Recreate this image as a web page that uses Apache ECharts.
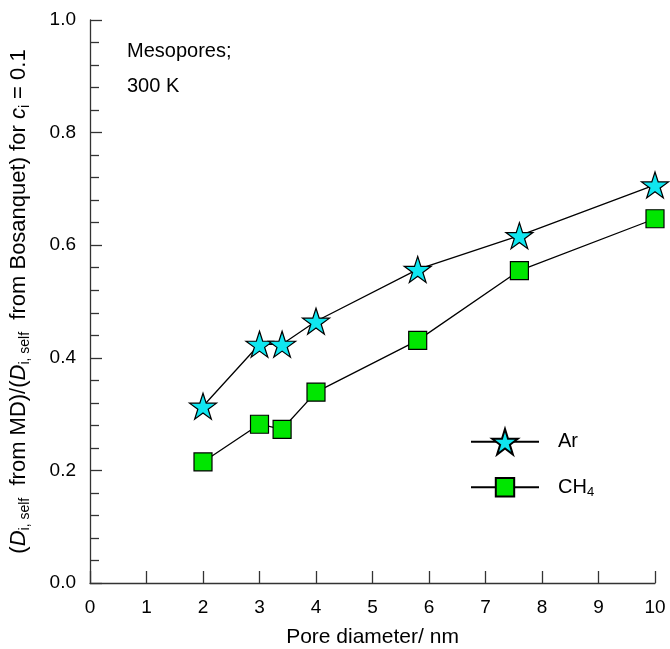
<!DOCTYPE html>
<html>
<head>
<meta charset="utf-8">
<script src="https://cdn.jsdelivr.net/npm/echarts@6/dist/echarts.min.js"></script>
<style>
  html, body { margin: 0; padding: 0; background: #fff; }
  #chart { width: 670px; height: 649px; }
</style>
</head>
<body>
<div id="chart"></div>
<script>
// pore diameters (nm)
var poreDiameter = [2, 3, 3.4, 4, 5.8, 7.6, 10];
// D(MD)/D(Bosanquet) ratios
var arRatio = [0.314, 0.424, 0.424, 0.465, 0.557, 0.617, 0.707];
var ch4Ratio = [0.215, 0.282, 0.273, 0.339, 0.431, 0.555, 0.647];

var starPath = 'path://M100,0 L122.45,69.1 L195.1,69.1 L136.3,111.8 L158.8,180.9 L100,138.2 L41.2,180.9 L63.7,111.8 L4.9,69.1 L77.55,69.1 Z';

function pairs(xs, ys) {
  return xs.map(function (x, i) { return [x, ys[i]]; });
}

var font = 'Liberation Sans';
var titleRich = {
  i: { fontStyle: 'italic', fontSize: 22, fontFamily: font, color: '#000' },
  sub: { fontSize: 14, fontFamily: font, color: '#000', verticalAlign: 'bottom', padding: [12, 0, 0, 0] }
};
var legendRich = {
  sub: { fontSize: 13, fontFamily: font, color: '#000', verticalAlign: 'bottom', padding: [10, 0, 0, 0] }
};

// one legend per series so each icon gets its own size
function legendBox(name, top, h) {
  return {
    orient: 'vertical',
    left: 470,
    top: top,
    padding: 0,
    itemWidth: 68,
    itemHeight: h,
    textStyle: { fontSize: 20, color: '#000', fontFamily: font, padding: [0, 0, 0, 14], rich: legendRich },
    formatter: function (n) { return n === 'CH4' ? 'CH{sub|4}' : n; },
    data: [name]
  };
}

var chart = echarts.init(document.getElementById('chart'));
chart.setOption({
  animation: false,
  grid: { left: 90, right: 15, top: 20, bottom: 66, outerBoundsMode: 'none' },
  textStyle: { fontFamily: font },
  legend: [legendBox('Ar', 428, 32), legendBox('CH4', 477, 23)],
  xAxis: {
    type: 'value',
    min: 0, max: 10, interval: 1,
    name: 'Pore diameter/ nm',
    nameLocation: 'middle',
    nameGap: 44,
    nameTextStyle: { fontSize: 21, color: '#000', fontFamily: font },
    axisLine: { lineStyle: { color: '#333', width: 1.3 } },
    axisTick: { inside: true, length: 12, lineStyle: { color: '#333', width: 1.3 } },
    axisLabel: { fontSize: 19, color: '#000', margin: 15, fontFamily: font },
    splitLine: { show: false }
  },
  yAxis: {
    type: 'value',
    min: 0, max: 1, interval: 0.2,
    name: '({i|D}{sub|i, self}  from MD)/({i|D}{sub|i, self}  from Bosanquet) for {i|c}{sub|i} = 0.1',
    nameLocation: 'middle',
    nameGap: 58,
    nameTextStyle: { fontSize: 22, color: '#000', fontFamily: font, rich: titleRich },
    axisLine: { show: true, lineStyle: { color: '#333', width: 1.3 } },
    axisTick: { inside: true, length: 12, lineStyle: { color: '#333', width: 1.3 } },
    minorTick: { show: true, splitNumber: 5, length: 9, lineStyle: { color: '#333', width: 1.3 } },
    axisLabel: {
      fontSize: 19, color: '#000', margin: 14, fontFamily: font,
      formatter: function (v) { return v.toFixed(1); }
    },
    splitLine: { show: false },
    minorSplitLine: { show: false }
  },
  graphic: [
    { type: 'text', left: 127, top: 41, style: { text: 'Mesopores;', font: '20px "Liberation Sans"', fill: '#000' } },
    { type: 'text', left: 127, top: 76, style: { text: '300 K', font: '20px "Liberation Sans"', fill: '#000' } }
  ],
  series: [
    {
      name: 'Ar',
      type: 'line',
      data: pairs(poreDiameter, arRatio),
      symbol: starPath,
      symbolSize: [27, 26],
      z: 3,
      lineStyle: { color: '#000', width: 1.3 },
      itemStyle: { color: '#10e6f0', borderColor: '#000', borderWidth: 1.2 }
    },
    {
      name: 'CH4',
      type: 'line',
      data: pairs(poreDiameter, ch4Ratio),
      symbol: 'rect',
      symbolSize: 18,
      z: 2,
      lineStyle: { color: '#000', width: 1.3 },
      itemStyle: { color: '#00e600', borderColor: '#000', borderWidth: 1.2 }
    }
  ]
});
</script>
</body>
</html>
